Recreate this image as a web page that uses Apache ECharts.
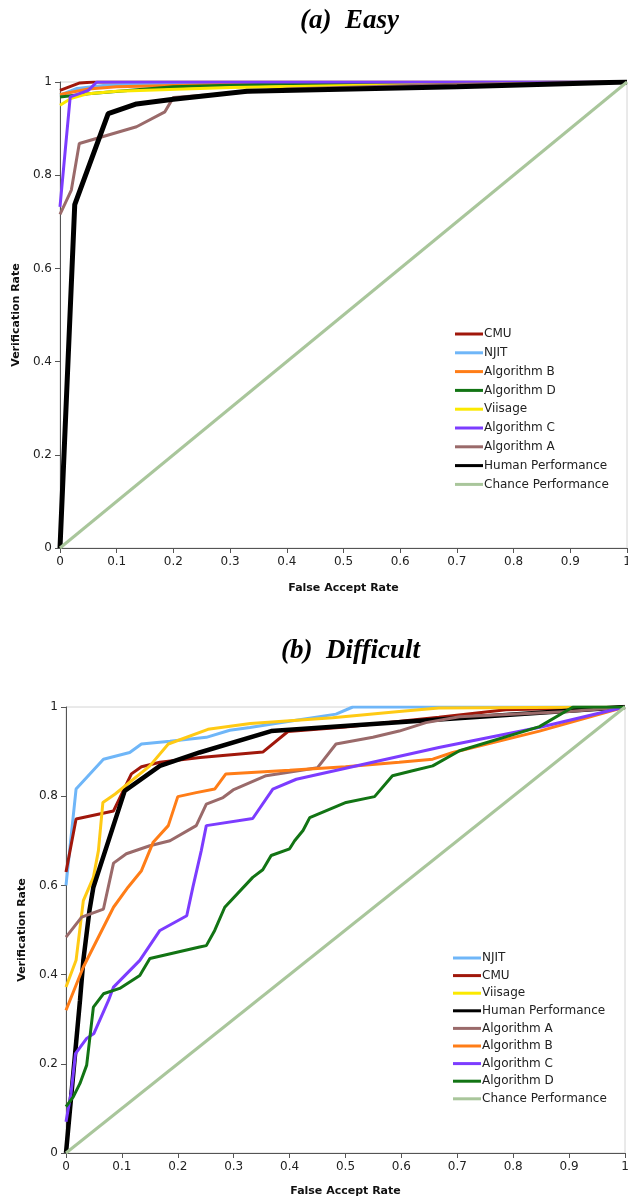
<!DOCTYPE html>
<html>
<head>
<meta charset="utf-8">
<script src="https://cdn.jsdelivr.net/npm/echarts@6/dist/echarts.min.js"></script>
<style>
html,body{margin:0;padding:0;background:#fff;}
#chart{width:628px;height:1202px;}
</style>
</head>
<body>
<div id="chart"></div>
<script>
// ---------- DATA ----------
const titleEasy = '(a)  Easy';
const titleHard = '(b)  Difficult';
const xAxisName = 'False Accept Rate';
const yAxisName = 'Verification Rate';

const easyNames = ['CMU','NJIT','Algorithm B','Algorithm D','Viisage','Algorithm C','Algorithm A','Human Performance','Chance Performance'];
const easyCMU = [[0,0.982],[0.035,0.998],[0.06,1],[1,1]];
const easyNJIT = [[0,0.972],[0.03,0.986],[0.08,0.993],[0.2,0.998],[1,1]];
const easyAlgB = [[0,0.973],[0.05,0.985],[0.1,0.99],[0.3,0.995],[1,1]];
const easyAlgD = [[0,0.968],[0.05,0.975],[0.2,0.99],[0.4,0.996],[1,1]];
const easyViisage = [[0,0.95],[0.02,0.965],[0.05,0.975],[0.1,0.98],[0.3,0.988],[0.6,0.994],[1,1]];
const easyAlgC = [[0,0.732],[0.018,0.968],[0.05,0.982],[0.065,1],[1,1]];
const easyAlgA = [[0,0.716],[0.02,0.768],[0.034,0.868],[0.135,0.904],[0.185,0.936],[0.2,0.967],[0.4,0.985],[0.7,0.995],[1,1]];
const easyHuman = [[0,0],[0.026,0.737],[0.085,0.932],[0.135,0.953],[0.2,0.963],[0.33,0.98],[0.7,0.99],[1,1]];
const chance = [[0,0],[1,1]];

const hardNames = ['NJIT','CMU','Viisage','Human Performance','Algorithm A','Algorithm B','Algorithm C','Algorithm D','Chance Performance'];
const hardNJIT = [[0,0.6],[0.018,0.816],[0.067,0.883],[0.114,0.898],[0.135,0.917],[0.186,0.923],[0.251,0.932],[0.293,0.948],[0.329,0.954],[0.4,0.968],[0.483,0.984],[0.513,1],[1,1]];
const hardCMU = [[0,0.63],[0.018,0.749],[0.085,0.767],[0.117,0.85],[0.135,0.866],[0.168,0.876],[0.24,0.887],[0.352,0.899],[0.397,0.945],[0.5,0.955],[0.667,0.977],[0.787,0.994],[1,1]];
const hardViisage = [[0,0.372],[0.018,0.432],[0.031,0.566],[0.049,0.618],[0.058,0.678],[0.066,0.786],[0.088,0.805],[0.15,0.868],[0.183,0.917],[0.254,0.95],[0.33,0.963],[0.477,0.976],[0.596,0.99],[0.667,0.998],[1,1]];
const hardHuman = [[0,0],[0.025,0.342],[0.031,0.432],[0.042,0.544],[0.049,0.596],[0.105,0.812],[0.168,0.868],[0.239,0.898],[0.367,0.946],[0.667,0.972],[0.847,0.987],[1,1]];
const hardAlgA = [[0,0.484],[0.028,0.529],[0.067,0.547],[0.085,0.65],[0.108,0.671],[0.15,0.689],[0.186,0.7],[0.233,0.734],[0.251,0.782],[0.281,0.797],[0.299,0.814],[0.358,0.846],[0.45,0.864],[0.483,0.917],[0.549,0.932],[0.596,0.946],[0.644,0.965],[0.704,0.978],[0.9,0.99],[1,1]];
const hardAlgB = [[0,0.32],[0.031,0.417],[0.085,0.551],[0.111,0.596],[0.135,0.633],[0.156,0.697],[0.183,0.734],[0.2,0.799],[0.233,0.808],[0.266,0.816],[0.286,0.85],[0.4,0.858],[0.5,0.866],[0.596,0.876],[0.656,0.883],[0.692,0.898],[0.847,0.946],[1,1]];
const hardAlgC = [[0,0.07],[0.009,0.134],[0.017,0.223],[0.037,0.257],[0.05,0.268],[0.076,0.342],[0.085,0.372],[0.132,0.432],[0.168,0.499],[0.216,0.532],[0.227,0.596],[0.242,0.678],[0.251,0.734],[0.334,0.75],[0.37,0.816],[0.412,0.838],[0.667,0.909],[0.85,0.955],[1,1]];
const hardAlgD = [[0,0.104],[0.013,0.126],[0.025,0.156],[0.037,0.197],[0.049,0.327],[0.067,0.357],[0.096,0.369],[0.132,0.398],[0.15,0.436],[0.239,0.462],[0.251,0.465],[0.266,0.499],[0.284,0.551],[0.334,0.618],[0.352,0.635],[0.367,0.667],[0.4,0.682],[0.409,0.7],[0.424,0.723],[0.436,0.752],[0.501,0.786],[0.552,0.799],[0.584,0.846],[0.62,0.857],[0.656,0.868],[0.704,0.902],[0.847,0.956],[0.907,1],[1,1]];

// ---------- STYLE ----------
const colors = {
  'CMU':'#a0170b','NJIT':'#6fb6f8','Algorithm B':'#ff7d17','Algorithm D':'#127414',
  'Algorithm C':'#7c3cff','Algorithm A':'#9a6a6a','Human Performance':'#000000','Chance Performance':'#a9c69b'
};
const easyViisageColor = '#fbe900';
const hardViisageColor = '#ffca14';
const fontSans = 'DejaVu Sans';

function mkSeries(name, data, idx, color, width){
  return {
    name, type:'line', data, xAxisIndex:idx, yAxisIndex:idx,
    showSymbol:false, symbol:'none', animation:false,
    lineStyle:{color, width}, itemStyle:{color},
    emphasis:{disabled:true}
  };
}

const easyData = [easyCMU, easyNJIT, easyAlgB, easyAlgD, easyViisage, easyAlgC, easyAlgA, easyHuman, chance];
const hardData = [hardNJIT, hardCMU, hardViisage, hardHuman, hardAlgA, hardAlgB, hardAlgC, hardAlgD, chance];

const series = [];
easyNames.forEach((n,i)=>{
  series.push(mkSeries(n, easyData[i], 0, n==='Viisage'?easyViisageColor:colors[n], n==='Human Performance'?5:3));
});
hardNames.forEach((n,i)=>{
  series.push(mkSeries(n, hardData[i], 1, n==='Viisage'?hardViisageColor:colors[n], n==='Human Performance'?4.5:3));
});

function xAx(idx){
  return {
    type:'value', gridIndex:idx, min:0, max:1, interval:0.1,
    name:xAxisName, nameLocation:'middle', nameGap: idx===0?35:33,
    nameTextStyle:{fontFamily:fontSans, fontWeight:'bold', fontSize:11, color:'#111'},
    axisLine:{show:true, onZero:false, lineStyle:{color:'#555', width:1}},
    axisTick:{show:true, length:5, lineStyle:{color:'#555'}},
    axisLabel:{fontFamily:fontSans, fontSize:12, color:'#222', margin:8, hideOverlap:false,
      formatter:v=>String(Math.round(v*10)/10)},
    splitLine:{show:false}
  };
}
function yAx(idx){
  return {
    type:'value', gridIndex:idx, min:0, max:1, interval:0.2,
    name:yAxisName, nameLocation:'middle', nameGap: idx===0?33:38,
    nameTextStyle:{fontFamily:fontSans, fontWeight:'bold', fontSize:11, color:'#111'},
    axisLine:{show:true, onZero:false, lineStyle:{color:'#555', width:1}},
    axisTick:{show:true, length:5, lineStyle:{color:'#555'}},
    axisLabel:{fontFamily:fontSans, fontSize:12, color:'#222', margin:8,
      formatter:v=>String(Math.round(v*10)/10)},
    splitLine:{show:false}
  };
}
function legendOf(names, idx){
  return {
    orient:'vertical', left: idx===0?450:448, top: idx===0?323:947,
    itemWidth:28, itemHeight:14, itemGap: idx===0?6.8:5.6,
    icon:'path://M0,5.5 L28,5.5 L28,8.5 L0,8.5 Z',
    data: names.map(n=>({name:n})),
    textStyle:{fontFamily:fontSans, fontSize:12, color:'#222', padding:[0,0,0,-4]},
    selectedMode:false
  };
}

const chart = echarts.init(document.getElementById('chart'), null, {renderer:'canvas'});
chart.setOption({
  backgroundColor:'#ffffff',
  animation:false,
  title:[
    {text:titleEasy, left:295, top:3, textStyle:{fontFamily:'Liberation Serif', fontStyle:'italic', fontWeight:'bold', fontSize:27, color:'#000'}},
    {text:titleHard, left:276, top:633, textStyle:{fontFamily:'Liberation Serif', fontStyle:'italic', fontWeight:'bold', fontSize:27, color:'#000'}}
  ],
  grid:[
    {left:60, right:1, top:82, height:466, outerBoundsMode:'none', containLabel:false, show:true, borderColor:'#d4d4d4', borderWidth:1, backgroundColor:'transparent'},
    {left:66, right:3, top:707, height:446, outerBoundsMode:'none', containLabel:false, show:true, borderColor:'#d4d4d4', borderWidth:1, backgroundColor:'transparent'}
  ],
  xAxis:[xAx(0), xAx(1)],
  yAxis:[yAx(0), yAx(1)],
  legend:[legendOf(easyNames,0), legendOf(hardNames,1)],
  series
});
</script>
</body>
</html>
